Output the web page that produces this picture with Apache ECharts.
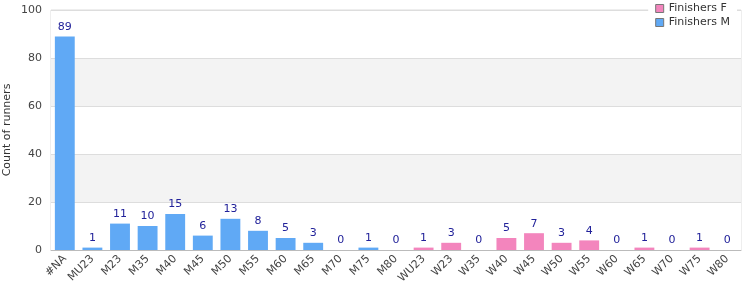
<!DOCTYPE html>
<html lang="en">
<head>
    <meta charset="UTF-8">
    <title>Finishers by category</title>
    <style>
        html, body { margin: 0; padding: 0; background: #fff; }
        #chart { width: 750px; height: 300px; }
    </style>
</head>
<body>
<div id="chart"></div>
<script src="https://cdn.jsdelivr.net/npm/echarts@6/dist/echarts.min.js"></script>
<script type="text/javascript">
    var categories = ['#NA', 'MU23', 'M23', 'M35', 'M40', 'M45', 'M50', 'M55', 'M60', 'M65', 'M70', 'M75', 'M80',
        'WU23', 'W23', 'W35', 'W40', 'W45', 'W50', 'W55', 'W60', 'W65', 'W70', 'W75', 'W80'];
    // '-' = no bar for that series in this category
    var finishersM = [89, 1, 11, 10, 15, 6, 13, 8, 5, 3, 0, 1, 0,
        '-', '-', '-', '-', '-', '-', '-', '-', '-', '-', '-', '-'];
    var finishersF = ['-', '-', '-', '-', '-', '-', '-', '-', '-', '-', '-', '-', '-',
        1, 3, 0, 5, 7, 3, 4, 0, 1, 0, 1, 0];
    var yTicks = [0, 20, 40, 60, 80, 100];

    var font = 'DejaVu Sans';
    var myChart = echarts.init(document.getElementById('chart'));

    var label = {
        show: true,
        position: 'top',
        distance: 4,
        color: '#22229a',
        fontFamily: font,
        fontSize: 11
    };

    var option = {
        animation: false,
        legend: {
            orient: 'vertical',
            right: 13,
            top: 0,
            padding: [3, 7, 4, 7],
            itemGap: 3,
            itemTextGap: 10,
            backgroundColor: '#fff',
            icon: 'rect',
            itemWidth: 8,
            itemHeight: 8,
            itemStyle: { borderColor: '#777', borderWidth: 1 },
            textStyle: { fontFamily: font, fontSize: 11, color: '#333' },
            data: ['Finishers F', 'Finishers M']
        },
        grid: {
            left: 51,
            right: 9,
            top: 10,
            bottom: 50,
            outerBoundsMode: 'none',
            containLabel: false,
            show: true,
            borderColor: '#ddd',
            borderWidth: 1
        },
        xAxis: {
            type: 'category',
            data: categories,
            axisLine: { lineStyle: { color: '#bbb' } },
            axisTick: { show: false },
            axisLabel: {
                rotate: 45,
                interval: 0,
                margin: 7,
                hideOverlap: false,
                fontFamily: font,
                fontSize: 11,
                color: '#444'
            }
        },
        yAxis: {
            type: 'value',
            min: yTicks[0],
            max: yTicks[yTicks.length - 1],
            interval: 20,
            name: 'Count of runners',
            nameLocation: 'middle',
            nameGap: 38,
            nameMoveOverlap: false,
            nameTextStyle: { fontFamily: font, fontSize: 11, color: '#333' },
            axisLine: { show: false },
            axisTick: { show: false },
            axisLabel: { fontFamily: font, fontSize: 11, color: '#444', margin: 9 },
            splitLine: { lineStyle: { color: '#ddd' } },
            splitArea: { show: true, areaStyle: { color: ['#fff', '#f3f3f3'] } }
        },
        series: [
            {
                name: 'Finishers F',
                type: 'bar',
                stack: 'all',
                barWidth: '72%',
                itemStyle: { color: '#f385bd' },
                label: label,
                data: finishersF
            },
            {
                name: 'Finishers M',
                type: 'bar',
                stack: 'all',
                barWidth: '72%',
                itemStyle: { color: '#60a9f5' },
                label: label,
                data: finishersM
            }
        ]
    };
    myChart.setOption(option);
</script>
</body>
</html>
